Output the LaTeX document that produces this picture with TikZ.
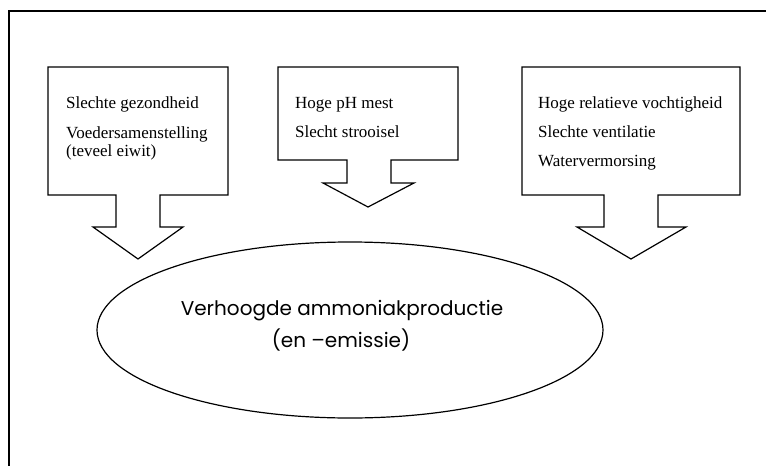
\documentclass[tikz,border=0pt]{standalone}
\usepackage{fontspec}
\setmainfont{Liberation Serif}
\newfontfamily\roundfont{Poppins}
\usetikzlibrary{shapes.geometric}
\begin{document}
\begin{tikzpicture}[x=1pt,y=-1pt,
  frameline/.style={line width=1.4pt},
  callout/.style={draw,line width=1.2pt,line join=miter},
  cause/.style={anchor=base west,inner sep=0pt,font=\fontsize{17}{20}\selectfont},
  effect/.style={anchor=base,inner sep=0pt,font=\roundfont\fontsize{20}{24}\selectfont}]
\useasboundingbox (0,0) rectangle (766,466);
\clip (0,0) rectangle (766,466);

% page frame (open to the right and bottom)
\draw[frameline] (9,480) -- (9,11) -- (780,11);

% left callout
\draw[callout] (48,67) -- (228,67) -- (228,195) -- (160,195) -- (160,227)
  -- (183,227) -- (138,259) -- (93,227) -- (116,227) -- (116,195)
  -- (48,195) -- cycle;
% middle callout
\draw[callout] (278,67) -- (458,67) -- (458,160) -- (391,160) -- (391,183)
  -- (414,183) -- (368,207) -- (323,183) -- (347,183) -- (347,160)
  -- (278,160) -- cycle;
% right callout
\draw[callout] (522,67) -- (740,67) -- (740,195) -- (658,195) -- (658,227)
  -- (686,227) -- (631,259) -- (577,227) -- (604,227) -- (604,195)
  -- (522,195) -- cycle;

% causes
\node[cause] (l1) at (66,108) {Slechte gezondheid};
\node[cause] (l2) at (66,138) {Voedersamenstelling};
\node[cause] (l3) at (66,156) {(teveel eiwit)};
\node[cause] (m1) at (295,108) {Hoge pH mest};
\node[cause] (m2) at (295,137) {Slecht strooisel};
\node[cause] (r1) at (538,108) {Hoge relatieve vochtigheid};
\node[cause] (r2) at (538,137) {Slechte ventilatie};
\node[cause] (r3) at (538,166) {Watervermorsing};

% effect
\node[ellipse,draw,line width=1.2pt,minimum width=506pt,minimum height=176pt,inner sep=0pt] (eff) at (350,330) {};
\node[effect] (e1) at (342,315) {Verhoogde ammoniakproductie};
\node[effect] (e2) at (341,347) {(en –emissie)};
\end{tikzpicture}
\end{document}
